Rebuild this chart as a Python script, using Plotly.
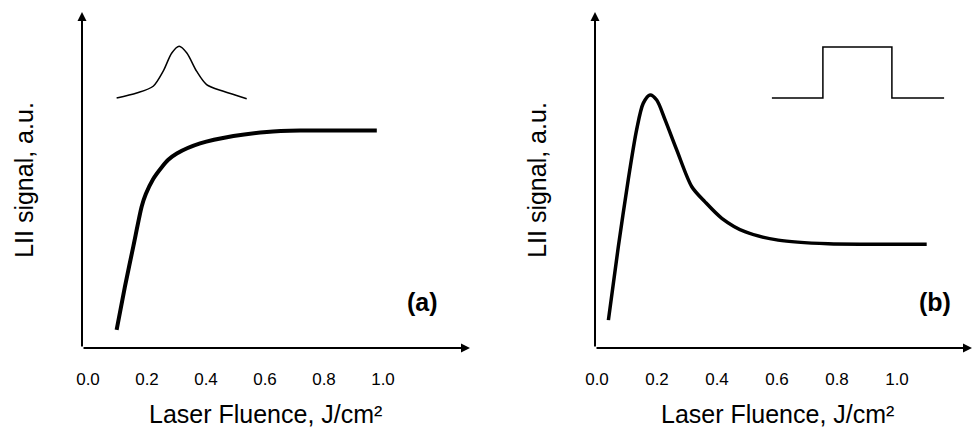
import plotly.graph_objects as go

W, H = 974, 438

# ---- data ----
# Panel (a): LII signal vs laser fluence, Gaussian laser profile
fluence_a = [0.097, 0.125, 0.154, 0.182, 0.196, 0.221, 0.250, 0.272, 0.301, 0.380, 0.493,
             0.606, 0.719, 0.832, 0.979]
signal_a = [0.054, 0.182, 0.304, 0.421, 0.458, 0.503, 0.538, 0.560, 0.579, 0.609, 0.631,
            0.643, 0.647, 0.647, 0.647]

# Panel (b): LII signal vs laser fluence, top-hat laser profile
fluence_b = [0.038, 0.071, 0.104, 0.132, 0.154, 0.177, 0.199, 0.227, 0.266, 0.316, 0.360,
             0.416, 0.493, 0.604, 0.771, 0.938, 1.099]
signal_b = [0.083, 0.301, 0.500, 0.649, 0.728, 0.753, 0.738, 0.679, 0.589, 0.480, 0.435,
            0.386, 0.346, 0.321, 0.310, 0.309, 0.309]

# Inset sketches of the laser beam profiles
gauss_x = [0.097, 0.165, 0.221, 0.255, 0.284, 0.309, 0.335, 0.368, 0.402, 0.459, 0.538]
gauss_y = [0.744, 0.759, 0.779, 0.824, 0.878, 0.898, 0.878, 0.824, 0.784, 0.764, 0.742]
tophat_x = [0.583, 0.753, 0.753, 0.983, 0.983, 1.157]
tophat_y = [0.744, 0.744, 0.896, 0.896, 0.744, 0.744]

tick_vals = [0.0, 0.2, 0.4, 0.6, 0.8, 1.0]
tick_text = ["0.0", "0.2", "0.4", "0.6", "0.8", "1.0"]

y_title = "LII signal, a.u."
x_title = "Laser Fluence, J/cm²"
panel_labels = ["(a)", "(b)"]

FONT = "Arial, 'Liberation Sans', sans-serif"

fig = go.Figure()
fig.add_trace(go.Scatter(x=fluence_a, y=signal_a, mode="lines", xaxis="x", yaxis="y",
                         line=dict(color="black", width=4, shape="spline", smoothing=0.7)))
fig.add_trace(go.Scatter(x=gauss_x, y=gauss_y, mode="lines", xaxis="x", yaxis="y",
                         line=dict(color="black", width=1.5, shape="spline", smoothing=0.8)))
fig.add_trace(go.Scatter(x=fluence_b, y=signal_b, mode="lines", xaxis="x2", yaxis="y2",
                         line=dict(color="black", width=3.5, shape="spline", smoothing=0.8)))
fig.add_trace(go.Scatter(x=tophat_x, y=tophat_y, mode="lines", xaxis="x2", yaxis="y2",
                         line=dict(color="black", width=1.5)))

# pixel geometry of the two panels
ax_bottom, ax_top = 348, 12
left_x0, left_x1, left_zero, left_scale = 82, 470, 88, 295
right_x0, right_x1, right_zero, right_scale = 595, 972, 597, 300

ydom = [1 - ax_bottom / H, 1 - ax_top / H]

def xaxis_cfg(x0, x1, zero, scale):
    return dict(domain=[x0 / W, x1 / W],
                range=[(x0 - zero) / scale, (x1 - zero) / scale],
                showgrid=False, zeroline=False, showline=False,
                tickmode="array", tickvals=tick_vals, ticktext=tick_text,
                ticks="outside", ticklen=16, tickcolor="rgba(0,0,0,0)",
                tickfont=dict(size=17, family=FONT, color="black"),
                automargin=False, fixedrange=True)

def yaxis_cfg(anchor):
    return dict(domain=ydom, range=[0, 1], anchor=anchor,
                showgrid=False, zeroline=False, showline=False,
                showticklabels=False, ticks="",
                title=dict(text=y_title, standoff=40,
                           font=dict(size=25, family=FONT, color="black")),
                automargin=False, fixedrange=True)

annotations = []
# axis arrows
for x0, x1 in [(left_x0, left_x1), (right_x0, right_x1)]:
    annotations.append(dict(xref="paper", yref="paper", x=x0 / W, y=1 - ax_top / H,
                            ax=0, ay=ax_bottom - ax_top, text="", showarrow=True,
                            arrowhead=2, arrowsize=0.9, arrowwidth=2, arrowcolor="black"))
    annotations.append(dict(xref="paper", yref="paper", x=x1 / W, y=1 - ax_bottom / H,
                            ax=-(x1 - x0), ay=0, text="", showarrow=True,
                            arrowhead=2, arrowsize=0.9, arrowwidth=2, arrowcolor="black"))
# x-axis titles
for xr in ["x", "x2"]:
    annotations.append(dict(xref=xr, yref="paper", x=0.6, y=1 - 414 / H, text=x_title,
                            showarrow=False, xanchor="center", yanchor="middle",
                            font=dict(size=25, family=FONT, color="black")))
# panel labels
for xr, xv, lab in [("x", 1.133, panel_labels[0]), ("x2", 1.128, panel_labels[1])]:
    annotations.append(dict(xref=xr, yref="y", x=xv, y=0.137, text="<b>%s</b>" % lab,
                            showarrow=False, xanchor="center", yanchor="middle",
                            font=dict(size=25, family=FONT, color="black")))

fig.update_layout(
    width=W, height=H,
    margin=dict(l=0, r=0, t=0, b=0),
    paper_bgcolor="white", plot_bgcolor="white",
    showlegend=False,
    template="none",
    font=dict(family=FONT, color="black"),
    xaxis=xaxis_cfg(left_x0, left_x1, left_zero, left_scale) | dict(anchor="y"),
    yaxis=yaxis_cfg("x"),
    xaxis2=xaxis_cfg(right_x0, right_x1, right_zero, right_scale) | dict(anchor="y2"),
    yaxis2=yaxis_cfg("x2"),
    annotations=annotations,
)

fig.write_html("out.html", config={"displayModeBar": False})
